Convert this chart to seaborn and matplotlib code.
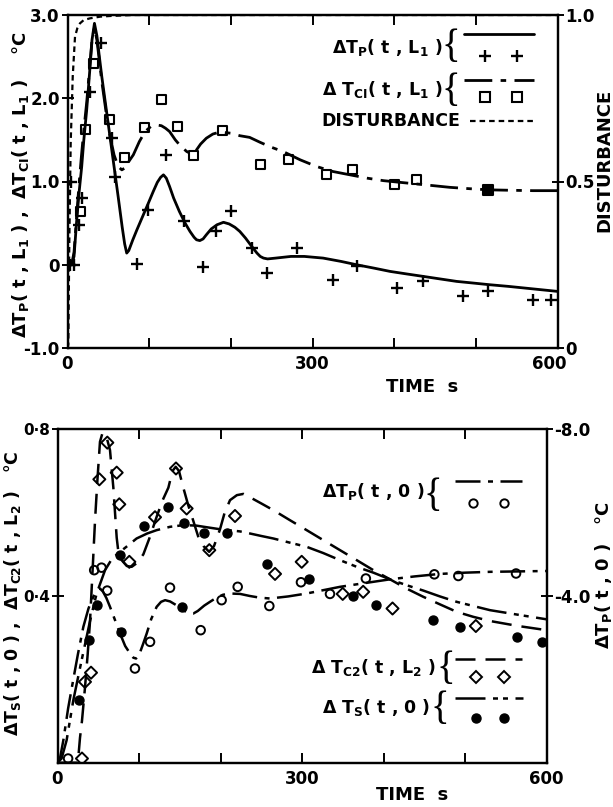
import numpy as np
import pandas as pd
import matplotlib
matplotlib.use("Agg")
import matplotlib.pyplot as plt
import matplotlib.transforms as mtransforms
import seaborn as sns
from matplotlib.lines import Line2D

# ---------------- TOP PANEL DATA ----------------
# Delta T_P(t, L1) computed curve (solid)
tp1_t = [0, 5, 8, 11, 14, 17.4, 20, 23.5, 27, 30, 33, 36, 39, 42, 47, 52, 57, 62, 67, 70, 72.5, 75, 80, 85, 92,
         99, 105, 110, 114, 117.5, 121, 125, 130, 137, 144, 150, 155, 158, 162, 166, 170, 176, 183, 191, 198, 205,
         211, 218, 225.6, 232, 236, 240, 245, 255, 273.6, 290, 313, 335, 354, 375, 395, 415, 435.6, 456, 476.5,
         497, 517, 540, 560, 580, 600]
tp1_v = [0.0, 0.0, 0.1, 0.5, 0.85, 1.18, 1.5, 1.86, 2.3, 2.7, 2.9, 2.75, 2.5, 2.26, 1.9, 1.54, 1.18, 0.82, 0.45,
         0.25, 0.14, 0.17, 0.3, 0.42, 0.58, 0.74, 0.88, 0.99, 1.05, 1.08, 1.04, 0.94, 0.8, 0.64, 0.5, 0.4, 0.33,
         0.3, 0.29, 0.31, 0.36, 0.43, 0.48, 0.51, 0.49, 0.45, 0.4, 0.32, 0.22, 0.14, 0.1, 0.08, 0.07, 0.08, 0.10,
         0.10, 0.08, 0.04, 0.0, -0.04, -0.08, -0.11, -0.14, -0.17, -0.2, -0.22, -0.24, -0.26, -0.28, -0.3, -0.32]
# Delta T_C1(t, L1) computed curve (dash-dot)
tc1_t = [0, 5, 8, 11, 14, 17, 20, 23.5, 27, 30, 33, 36, 39, 42, 47, 52, 57, 62, 66.5, 70, 75, 80.6, 88, 95, 102,
         108.8, 115, 120, 125, 132, 139, 146, 150, 154, 158, 163, 170, 178, 185, 191, 200, 211, 223, 236, 250,
         264, 285, 305, 325, 346, 367, 387, 407, 427.6, 448, 468, 490, 515, 540, 570, 600]
tc1_v = [0.0, 0.0, 0.15, 0.55, 0.95, 1.3, 1.62, 1.95, 2.35, 2.7, 2.85, 2.7, 2.45, 2.2, 1.85, 1.55, 1.32, 1.18,
         1.14, 1.16, 1.24, 1.32, 1.48, 1.6, 1.66, 1.68, 1.67, 1.64, 1.6, 1.5, 1.42, 1.36, 1.34, 1.34, 1.38, 1.45,
         1.52, 1.57, 1.59, 1.59, 1.58, 1.55, 1.53, 1.47, 1.41, 1.36, 1.26, 1.18, 1.12, 1.08, 1.04, 1.01, 0.99,
         0.97, 0.95, 0.93, 0.915, 0.90, 0.895, 0.89, 0.89]
# Disturbance (right axis, 0..1)
dist_t = [0, 1, 2.2, 3.9, 6.4, 9.2, 12, 15.3, 20, 27.5, 40, 52, 80, 600]
dist_v = [0.0, 0.01, 0.315, 0.615, 0.815, 0.935, 0.96, 0.975, 0.985, 0.99, 0.995, 0.997, 1.0, 1.0]
# measured Delta T_P(t, L1)  (+)
tp1m_t = [3, 8, 4, 14.1, 17.3, 27.6, 40.6, 54.1, 58.2, 85.5, 99, 120.6, 142.6, 166.3, 181.4, 199.8, 225.5,
          244.7, 280.6, 324.7, 354.9, 404, 435.7, 483.8, 514.5, 569.6, 592]
tp1m_v = [0.0, 0.0, 1.0, 0.48, 0.8, 2.08, 2.66, 1.52, 1.06, 0.01, 0.66, 1.32, 0.53, -0.03, 0.40, 0.65, 0.2,
          -0.10, 0.20, -0.18, -0.02, -0.28, -0.20, -0.38, -0.32, -0.42, -0.42]
# measured Delta T_C1(t, L1)  (open squares)
tc1m_t = [16.5, 22.2, 31.6, 52, 70.4, 93.7, 115.3, 134.5, 154, 190, 236.7, 271, 317, 349, 400, 427]
tc1m_v = [0.64, 1.62, 2.42, 1.75, 1.29, 1.65, 1.99, 1.66, 1.31, 1.61, 1.21, 1.27, 1.09, 1.14, 0.96, 1.02]
tc1f_t = [514.5]
tc1f_v = [0.90]

# ---------------- BOTTOM PANEL DATA ----------------
# Delta T_C2(t, L2) computed (dashed)
tc2_t = [0, 25, 27.6, 30, 33.7, 37, 39.9, 43, 46, 49, 52.1, 55, 58, 61, 64.4, 68.5, 72.6, 75, 78.7, 85, 91, 98,
         105.3, 113, 121.6, 129, 136, 141, 145, 149, 154.3, 160, 166.6, 173, 179, 186, 192, 199.3, 205, 211.6,
         220, 228, 236, 250, 264.7, 285, 305.6, 326, 346.5, 367, 387.4, 407.8, 428, 448.7, 469, 489.6, 510,
         530.5, 565, 600]
tc2_v = [0.0, 0.0, 0.06, 0.1, 0.18, 0.26, 0.34, 0.46, 0.58, 0.68, 0.77, 0.79, 0.79, 0.775, 0.75, 0.66, 0.54, 0.5,
         0.486, 0.472, 0.47, 0.48, 0.50, 0.54, 0.59, 0.63, 0.66, 0.70, 0.71, 0.70, 0.66, 0.62, 0.58, 0.54, 0.52,
         0.506, 0.52, 0.56, 0.60, 0.63, 0.642, 0.645, 0.637, 0.622, 0.606, 0.582, 0.558, 0.534, 0.51, 0.486,
         0.462, 0.44, 0.418, 0.398, 0.38, 0.362, 0.35, 0.34, 0.328, 0.318]
# Delta T_S(t, 0) computed (dash-dot-dot)
ts_t = [0, 5, 11.2, 19.4, 29.6, 39.9, 48, 58.3, 67, 76.7, 87, 97, 110, 121.6, 138, 154.3, 170, 183, 200, 223.8,
        236, 250, 264.7, 285, 305.6, 326, 346.5, 367, 387.4, 407.8, 428, 448.7, 469, 489.6, 510, 530.5, 565, 600]
ts_v = [0.0, 0.01, 0.054, 0.15, 0.246, 0.34, 0.406, 0.462, 0.49, 0.506, 0.522, 0.538, 0.55, 0.558, 0.566, 0.57,
        0.569, 0.565, 0.56, 0.555, 0.55, 0.544, 0.538, 0.528, 0.518, 0.503, 0.486, 0.47, 0.456, 0.44, 0.426,
        0.413, 0.399, 0.386, 0.376, 0.366, 0.355, 0.344]
# Delta T_P(t, 0) computed (dash-dot), degC on right axis
tp0_t = [0, 3, 7.2, 13, 19.4, 25, 31.7, 38, 43.9, 48, 52.1, 56, 60, 64.4, 70, 76.7, 83, 89, 93, 96.3, 100, 105,
         109.4, 115, 121.6, 127, 132, 138, 144, 150, 156, 161, 166.6, 172, 180, 187, 195, 203, 211.6, 224, 236,
         248, 260.7, 283, 305.6, 326, 346.5, 377, 407.8, 438, 469, 500, 530.5, 565, 600]
tp0_v = [0.0, -0.1, -0.54, -1.3, -2.0, -2.6, -3.26, -3.7, -3.98, -4.12, -4.18, -4.1, -3.95, -3.74, -3.45, -3.1,
         -2.8, -2.62, -2.52, -2.5, -2.58, -2.85, -3.1, -3.45, -3.74, -3.86, -3.9, -3.87, -3.8, -3.73, -3.64,
         -3.59, -3.58, -3.64, -3.77, -3.86, -3.96, -4.03, -4.06, -4.05, -4.0, -3.96, -3.94, -3.99, -4.06, -4.14,
         -4.22, -4.31, -4.4, -4.47, -4.53, -4.56, -4.58, -4.59, -4.6]
# measured Delta T_P(t, 0) (open circles), degC
tp0m_t = [13, 45, 54, 61, 95, 113.5, 138, 175.6, 201.3, 221, 259.8, 298.6, 334.2, 378.2, 462.2, 491.6, 562.4]
tp0m_v = [-0.1, -4.62, -4.68, -4.13, -2.26, -2.9, -4.2, -3.18, -3.9, -4.22, -3.76, -4.33, -4.05, -4.42, -4.52,
          -4.48, -4.54]
# measured Delta T_C2(t, L2) (open diamonds)
tc2m_t = [30, 33.7, 41.1, 51.3, 61.1, 72.6, 75.8, 88.1, 119.6, 145.3, 158.4, 186.2, 217.7, 266.8, 299.5, 349.8,
          374.9, 410.9, 513.1]
tc2m_v = [0.01, 0.194, 0.216, 0.68, 0.768, 0.696, 0.62, 0.482, 0.589, 0.706, 0.61, 0.51, 0.592, 0.453, 0.482,
          0.405, 0.41, 0.37, 0.328]
# measured Delta T_S(t, 0) (filled circles)
tsm_t = [26.8, 39.1, 48.1, 76.7, 77.5, 106.1, 136, 152.3, 155.2, 180.1, 207.5, 256.5, 308.9, 362.8, 390.6, 461,
         493.7, 563.2, 593.9]
tsm_v = [0.15, 0.294, 0.378, 0.498, 0.314, 0.568, 0.613, 0.374, 0.576, 0.552, 0.552, 0.477, 0.44, 0.40, 0.378,
         0.342, 0.326, 0.302, 0.29]

# tick labels
top_xticks = [0, 300, 600]
top_yticks = [3.0, 2.0, 1.0, 0.0, -1.0]
top_yticklabels = ["3.0", "2.0", "1.0", "0", "-1.0"]
top_rticks = [0.0, 0.5, 1.0]
top_rticklabels = ["0", "0.5", "1.0"]
bot_yticks = [0.8, 0.4]
bot_yticklabels = ["0·8", "0·4"]
bot_rticks = [-8.0, -4.0]
bot_rticklabels = ["-8.0", "-4.0"]

# ---------------- STYLE ----------------
sns.set_theme(style="white")
plt.rcParams.update({
    "font.family": ["DejaVu Sans"],
    "font.weight": "bold",
    "mathtext.fontset": "custom",
    "mathtext.rm": "DejaVu Sans:bold",
    "mathtext.it": "DejaVu Sans:bold",
    "mathtext.bf": "DejaVu Sans:bold",
    "mathtext.sf": "DejaVu Sans:bold",
    "mathtext.default": "rm",
    "axes.edgecolor": "black",
    "axes.linewidth": 1.6,
    "text.color": "black",
    "xtick.color": "black",
    "ytick.color": "black",
})

W, H = 613, 807
fig = plt.figure(figsize=(W / 100, H / 100), dpi=100)
fig.patch.set_facecolor("white")


def fx(x):
    return x / W


def fy(y):
    return 1 - y / H


K = "black"
LS_DD = (0, (10, 3, 2, 3))
LS_D2 = (0, (12, 3, 2, 2, 2, 3))
LS_DASH = (0, (8, 4))
LS_DIST = (0, (2.5, 1.8))


def shift_last_xlabel(ax, dx_px):
    labs = ax.get_xticklabels()
    off = mtransforms.ScaledTranslation(dx_px / 100, 0, fig.dpi_scale_trans)
    labs[-1].set_transform(labs[-1].get_transform() + off)


# ---------------- TOP PANEL ----------------
ax1 = fig.add_axes([fx(67.5), fy(348), (557.5 - 67.5) / W, (348 - 15) / H])
ax1b = ax1.twinx()
ax1.set_xlim(0, 600)
ax1.set_ylim(-1.0, 3.0)
ax1b.set_ylim(0, 1.0)

sns.lineplot(x=tp1_t, y=tp1_v, ax=ax1, color=K, lw=2.0, estimator=None, errorbar=None)
sns.lineplot(x=tc1_t, y=tc1_v, ax=ax1, color=K, lw=2.0, linestyle=LS_DD, estimator=None, errorbar=None)
sns.scatterplot(x=tp1m_t, y=tp1m_v, ax=ax1, marker="+", s=70, color=K, linewidth=1.7, zorder=5)
sns.scatterplot(x=tc1m_t, y=tc1m_v, ax=ax1, marker="s", s=42, facecolor="none", edgecolor=K, linewidth=1.5,
                zorder=5)
sns.scatterplot(x=tc1f_t, y=tc1f_v, ax=ax1, marker="s", s=42, color=K, edgecolor=K, linewidth=1.5, zorder=5)
sns.lineplot(x=dist_t, y=dist_v, ax=ax1b, color=K, lw=1.6, linestyle=LS_DIST, estimator=None, errorbar=None)

ax1.set_xticks(top_xticks)
ax1.set_xticklabels([str(v) for v in top_xticks])
ax1.set_xticks([100, 200, 400, 500], minor=True)
ax1.set_yticks(top_yticks)
ax1.set_yticklabels(top_yticklabels)
ax1b.set_yticks(top_rticks)
ax1b.set_yticklabels(top_rticklabels)
ax1.tick_params(axis="x", which="both", direction="in", length=7, width=1.4, top=True, bottom=True,
                labelsize=12, pad=5)
ax1.tick_params(axis="y", which="both", direction="inout", length=9, width=1.4, labelsize=12, pad=1)
ax1b.tick_params(axis="y", which="both", direction="inout", length=9, width=1.4, labelsize=12, pad=1)
ax1.set_xlabel("")
ax1.set_ylabel("")
ax1b.set_ylabel("")
for a in (ax1, ax1b):
    for sp in a.spines.values():
        sp.set_color(K)
        sp.set_linewidth(1.6)
shift_last_xlabel(ax1, -8)

# ---------------- BOTTOM PANEL ----------------
ax2 = fig.add_axes([fx(57.5), fy(762.7), (546.7 - 57.5) / W, (762.7 - 429.3) / H])
ax2b = ax2.twinx()
ax2.set_xlim(0, 600)
ax2.set_ylim(0, 0.8)
ax2b.set_ylim(0, -8.0)

sns.lineplot(x=tc2_t, y=tc2_v, ax=ax2, color=K, lw=1.8, linestyle=LS_DASH, estimator=None, errorbar=None)
sns.lineplot(x=ts_t, y=ts_v, ax=ax2, color=K, lw=1.8, linestyle=LS_D2, estimator=None, errorbar=None)
sns.lineplot(x=tp0_t, y=tp0_v, ax=ax2b, color=K, lw=1.8, linestyle=LS_DD, estimator=None, errorbar=None)
sns.scatterplot(x=tc2m_t, y=tc2m_v, ax=ax2, marker="D", s=38, facecolor="none", edgecolor=K, linewidth=1.4,
                zorder=5)
sns.scatterplot(x=tsm_t, y=tsm_v, ax=ax2, marker="o", s=42, color=K, edgecolor=K, linewidth=1.0, zorder=5)
sns.scatterplot(x=tp0m_t, y=tp0m_v, ax=ax2b, marker="o", s=38, facecolor="none", edgecolor=K, linewidth=1.4,
                zorder=5)

ax2.set_xticks(top_xticks)
ax2.set_xticklabels([str(v) for v in top_xticks])
ax2.set_xticks([100, 200, 400, 500], minor=True)
ax2.set_yticks(bot_yticks)
ax2.set_yticklabels(bot_yticklabels)
ax2b.set_yticks(bot_rticks)
ax2b.set_yticklabels(bot_rticklabels)
ax2.tick_params(axis="x", which="both", direction="in", length=7, width=1.4, top=True, bottom=True,
                labelsize=12, pad=5)
ax2.tick_params(axis="y", which="both", direction="inout", length=9, width=1.4, labelsize=11, pad=1)
ax2b.tick_params(axis="y", which="both", direction="inout", length=9, width=1.4, labelsize=12, pad=1)
ax2.set_xlabel("")
ax2.set_ylabel("")
ax2b.set_ylabel("")
for a in (ax2, ax2b):
    for sp in a.spines.values():
        sp.set_color(K)
        sp.set_linewidth(1.6)

# ---------------- LABELS ----------------
fs_lab = 13
fig.text(fx(422), fy(387), "TIME  s", ha="center", va="center", fontsize=fs_lab, fontweight="bold")
fig.text(fx(412), fy(795), "TIME  s", ha="center", va="center", fontsize=fs_lab, fontweight="bold")
fig.text(fx(21), fy(185), r"ΔT$_P$( t , L$_1$ ) ,  ΔT$_{CI}$( t , L$_1$ )    °C", rotation=90,
         ha="center", va="center", fontsize=fs_lab, fontweight="bold")
fig.text(fx(604), fy(160), "DISTURBANCE", rotation=90, ha="center", va="center", fontsize=fs_lab,
         fontweight="bold")
fig.text(fx(13), fy(593), r"ΔT$_S$( t , 0 ) ,  ΔT$_{C2}$( t , L$_2$ )   °C", rotation=90,
         ha="center", va="center", fontsize=12.5, fontweight="bold")
fig.text(fx(604), fy(575), r"ΔT$_P$( t , 0 )   °C", rotation=90, ha="center", va="center",
         fontsize=fs_lab, fontweight="bold")

# ---------------- LEGEND-LIKE KEYS ----------------
fs_leg = 12.5


def key_text(x, y, s):
    fig.text(fx(x), fy(y), s, ha="right", va="center", fontsize=fs_leg, fontweight="bold")


def brace(x, y, size=28):
    fig.text(fx(x), fy(y), "{", ha="center", va="center", fontsize=size, fontweight="normal",
             family="Liberation Serif")


def key_line(x0, x1, y, ls, lw=2.0):
    fig.add_artist(Line2D([fx(x0), fx(x1)], [fy(y), fy(y)], transform=fig.transFigure, color=K, lw=lw,
                          linestyle=ls))


def key_marks(xs, y, **kw):
    fig.add_artist(Line2D([fx(v) for v in xs], [fy(y)] * len(xs), transform=fig.transFigure, ls="none",
                          color=K, **kw))


# top
key_text(443, 47, r"ΔT$_P$( t , L$_1$ )")
brace(451, 48)
key_line(464, 534, 34, "-")
key_marks([485, 517], 56, marker="+", markersize=9, markeredgewidth=1.7)
key_text(443, 89, r"Δ T$_{CI}$( t , L$_1$ )")
brace(451, 91)
key_line(464, 534, 80, LS_DD)
key_marks([485, 517], 97, marker="s", markersize=6.5, markerfacecolor="none", markeredgewidth=1.5)
key_text(460, 121, "DISTURBANCE")
key_line(470, 535, 121, LS_DIST, lw=1.6)

# bottom
key_text(424, 492, r"ΔT$_P$( t , 0 )")
brace(433, 497)
key_line(455, 522, 481, LS_DD, lw=1.8)
key_marks([473, 504], 503, marker="o", markersize=6, markerfacecolor="none", markeredgewidth=1.4)
key_text(436, 668, r"Δ T$_{C2}$( t , L$_2$ )")
brace(446, 669)
key_line(455, 522, 659, LS_DASH, lw=1.8)
key_marks([476, 504], 677, marker="D", markersize=6, markerfacecolor="none", markeredgewidth=1.4)
key_text(430, 708, r"Δ T$_S$( t , 0 )")
brace(440, 709)
key_line(455, 523, 698, LS_D2, lw=1.8)
key_marks([476, 504], 718, marker="o", markersize=6.5, markerfacecolor=K)

fig.savefig("out.png", dpi=100, facecolor="white")
